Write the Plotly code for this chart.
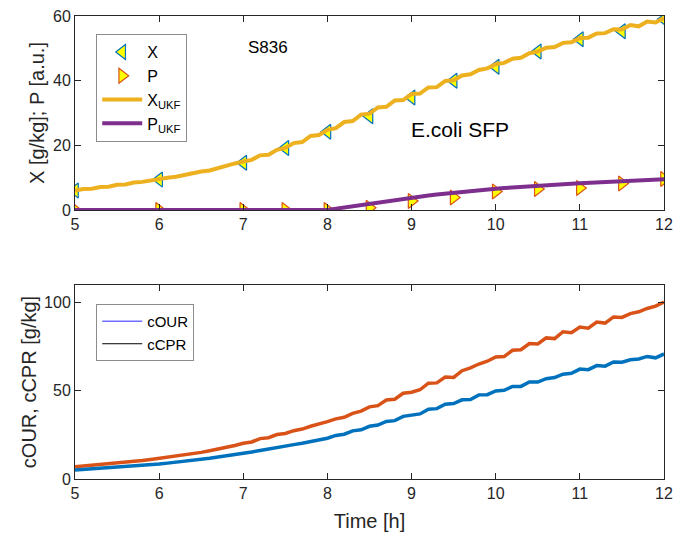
import plotly.graph_objects as go

# Sampled measurements (markers)
t_meas = [5, 6, 7, 7.5, 8, 8.5, 9, 9.5, 10, 10.5, 11, 11.5, 12]
x_meas = [6.0, 9.4, 14.6, 19.2, 24.2, 29.0, 34.8, 40.0, 44.3, 49.0, 52.8, 55.3, 59.0]
p_meas = [0.0, 0.0, 0.0, 0.0, 0.0, 0.7, 2.8, 3.9, 5.7, 6.5, 6.8, 8.2, 9.6]

# Filter estimates and online rates, 0.1 h sampling
t_est = [round(5 + 0.1 * i, 1) for i in range(71)]
x_ukf = [6.0, 6.5, 6.6, 7.1, 7.2, 7.8, 7.9, 8.5, 8.7, 9.2,
         9.5, 10.0, 10.3, 10.9, 11.2, 11.9, 12.2, 13.0, 13.5, 14.4,
         15.0, 15.5, 16.9, 17.1, 18.6, 19.2, 20.7, 21.0, 22.9, 23.2,
         24.8, 25.3, 27.2, 27.5, 29.5, 29.8, 31.7, 31.9, 33.9, 34.0,
         35.9, 36.0, 37.9, 38.0, 39.9, 40.1, 41.6, 42.0, 43.3, 43.8,
         45.1, 45.5, 46.8, 47.1, 48.5, 49.0, 50.2, 50.4, 51.7, 51.9,
         53.2, 53.3, 54.6, 54.7, 55.9, 55.8, 57.2, 56.8, 58.3, 58.0,
         59.4]
p_ukf = [0.0] * 31 + [0.4, 0.8, 1.2, 1.6, 1.9, 2.3, 2.7, 3.1, 3.5, 3.9,
                      4.2, 4.5, 4.8, 5.1, 5.4, 5.7, 5.9, 6.2, 6.4, 6.6,
                      6.8, 7.0, 7.2, 7.4, 7.5, 7.7, 7.8, 8.0, 8.1, 8.3,
                      8.4, 8.5, 8.6, 8.7, 8.8, 8.9, 9.0, 9.1, 9.3, 9.5]
c_our = [5.1, 5.4, 5.7, 6.0, 6.3, 6.6, 7.0, 7.3, 7.7, 8.1,
         8.5, 9.0, 9.5, 10.0, 10.6, 11.2, 11.8, 12.5, 13.1, 13.8,
         14.6, 15.3, 16.2, 16.9, 17.8, 18.4, 19.5, 20.3, 21.2, 22.4,
         23.1, 24.7, 25.4, 27.3, 27.9, 29.9, 30.6, 32.6, 33.1, 35.5,
         36.4, 36.9, 39.6, 39.9, 42.4, 42.8, 44.9, 45.1, 47.7, 47.8,
         49.9, 50.3, 52.5, 52.5, 55.0, 55.0, 56.9, 57.5, 59.4, 59.9,
         62.3, 62.0, 64.3, 64.0, 66.4, 66.2, 67.6, 68.1, 69.5, 68.7,
         70.9]
c_cpr = [7.0, 7.4, 7.8, 8.3, 8.7, 9.1, 9.6, 10.0, 10.5, 11.1,
         11.7, 12.3, 12.9, 13.6, 14.3, 15.1, 16.0, 16.9, 18.0, 19.0,
         20.3, 21.0, 22.9, 23.4, 25.2, 25.8, 27.4, 28.3, 29.9, 31.0,
         32.5, 34.1, 35.0, 37.2, 38.5, 40.9, 41.6, 44.8, 45.2, 48.6,
         49.2, 50.6, 54.3, 54.5, 57.8, 57.6, 61.4, 63.0, 65.2, 66.8,
         69.2, 69.4, 73.0, 73.3, 76.8, 76.6, 80.0, 79.6, 83.5, 83.0,
         86.2, 85.5, 89.0, 88.4, 91.9, 91.6, 93.8, 94.8, 96.7, 98.0,
         100.3]

x_ticks = [5, 6, 7, 8, 9, 10, 11, 12]
top_ticks = [0, 20, 40, 60]
bot_ticks = [0, 50, 100]

FONT = "Liberation Sans, Arial, sans-serif"
AX = "#262626"

fig = go.Figure()

# Top panel: measurement markers drawn first so the estimates sit on top
fig.add_trace(go.Scatter(x=t_meas, y=x_meas, mode="markers", name="X", legendrank=1,
                         marker=dict(symbol="triangle-left", size=13, color="#FFFF00",
                                     line=dict(color="#0072BD", width=1.2)),
                         legend="legend", xaxis="x", yaxis="y"))
fig.add_trace(go.Scatter(x=t_meas, y=p_meas, mode="markers", name="P", legendrank=2,
                         marker=dict(symbol="triangle-right", size=13, color="#FFFF00",
                                     line=dict(color="#D95319", width=1.2)),
                         legend="legend", xaxis="x", yaxis="y"))
fig.add_trace(go.Scatter(x=t_est, y=x_ukf, mode="lines", name="X<sub>UKF</sub>", legendrank=3,
                         line=dict(color="#EDB120", width=4), legend="legend", xaxis="x", yaxis="y"))
fig.add_trace(go.Scatter(x=t_est, y=p_ukf, mode="lines", name="P<sub>UKF</sub>", legendrank=4,
                         line=dict(color="#7E2F8E", width=4), legend="legend", xaxis="x", yaxis="y"))

# Bottom panel
fig.add_trace(go.Scatter(x=t_est, y=c_cpr, mode="lines", showlegend=False,
                         line=dict(color="#D95319", width=3.5), xaxis="x2", yaxis="y2"))
fig.add_trace(go.Scatter(x=t_est, y=c_our, mode="lines", showlegend=False,
                         line=dict(color="#0072BD", width=3.5), xaxis="x2", yaxis="y2"))
# Legend entries of the lower panel
fig.add_trace(go.Scatter(x=[None], y=[None], mode="lines", name="cOUR",
                         line=dict(color="#6F6FFF", width=1.5), legend="legend2", xaxis="x2", yaxis="y2"))
fig.add_trace(go.Scatter(x=[None], y=[None], mode="lines", name="cCPR",
                         line=dict(color="#000000", width=1), legend="legend2", xaxis="x2", yaxis="y2"))

axis_common = dict(showline=True, linecolor=AX, linewidth=1, mirror="allticks", ticks="inside",
                   ticklen=6, tickcolor=AX, showgrid=False, zeroline=False,
                   ticklabeloverflow="allow", automargin=False,
                   tickfont=dict(family=FONT, size=16, color=AX))
title_font = dict(family=FONT, size=20, color=AX)

fig.update_layout(
    width=673, height=538,
    margin=dict(l=75, r=9, t=16, b=59, autoexpand=False),
    plot_bgcolor="white", paper_bgcolor="white",
    font=dict(family=FONT, color=AX),
    xaxis=dict(domain=[0, 1], anchor="y", range=[5, 12], tickvals=x_ticks, **axis_common),
    yaxis=dict(domain=[0.581, 1], anchor="x", range=[0, 60], tickvals=top_ticks,
               title=dict(text="X [g/kg]; P [a.u.]", font=title_font, standoff=2),
               **axis_common),
    xaxis2=dict(domain=[0, 1], anchor="y2", range=[5, 12], tickvals=x_ticks,
                title=dict(text="Time [h]", font=title_font, standoff=12),
                **axis_common),
    yaxis2=dict(domain=[0, 0.419], anchor="x2", range=[0, 110], tickvals=bot_ticks,
                title=dict(text="cOUR, cCPR [g/kg]", font=title_font, standoff=2),
                **axis_common),
    legend=dict(x=0.036, y=0.961, xanchor="left", yanchor="top", bgcolor="white",
                bordercolor="#8C8C8C", borderwidth=1, traceorder="normal", itemwidth=40,
                font=dict(family=FONT, size=16, color="#000000"), tracegroupgap=0),
    legend2=dict(x=0.036, y=0.378, xanchor="left", yanchor="top", bgcolor="white",
                 bordercolor="#8C8C8C", borderwidth=1, itemwidth=40,
                 font=dict(family=FONT, size=15, color="#000000"), tracegroupgap=0),
    annotations=[
        dict(x=7.29, y=50.3, xref="x", yref="y", text="S836", showarrow=False,
             font=dict(family=FONT, size=17, color="#000000")),
        dict(x=9.58, y=24.8, xref="x", yref="y", text="E.coli SFP", showarrow=False,
             font=dict(family=FONT, size=21, color="#000000")),
    ],
)

fig.write_html("out.html")
